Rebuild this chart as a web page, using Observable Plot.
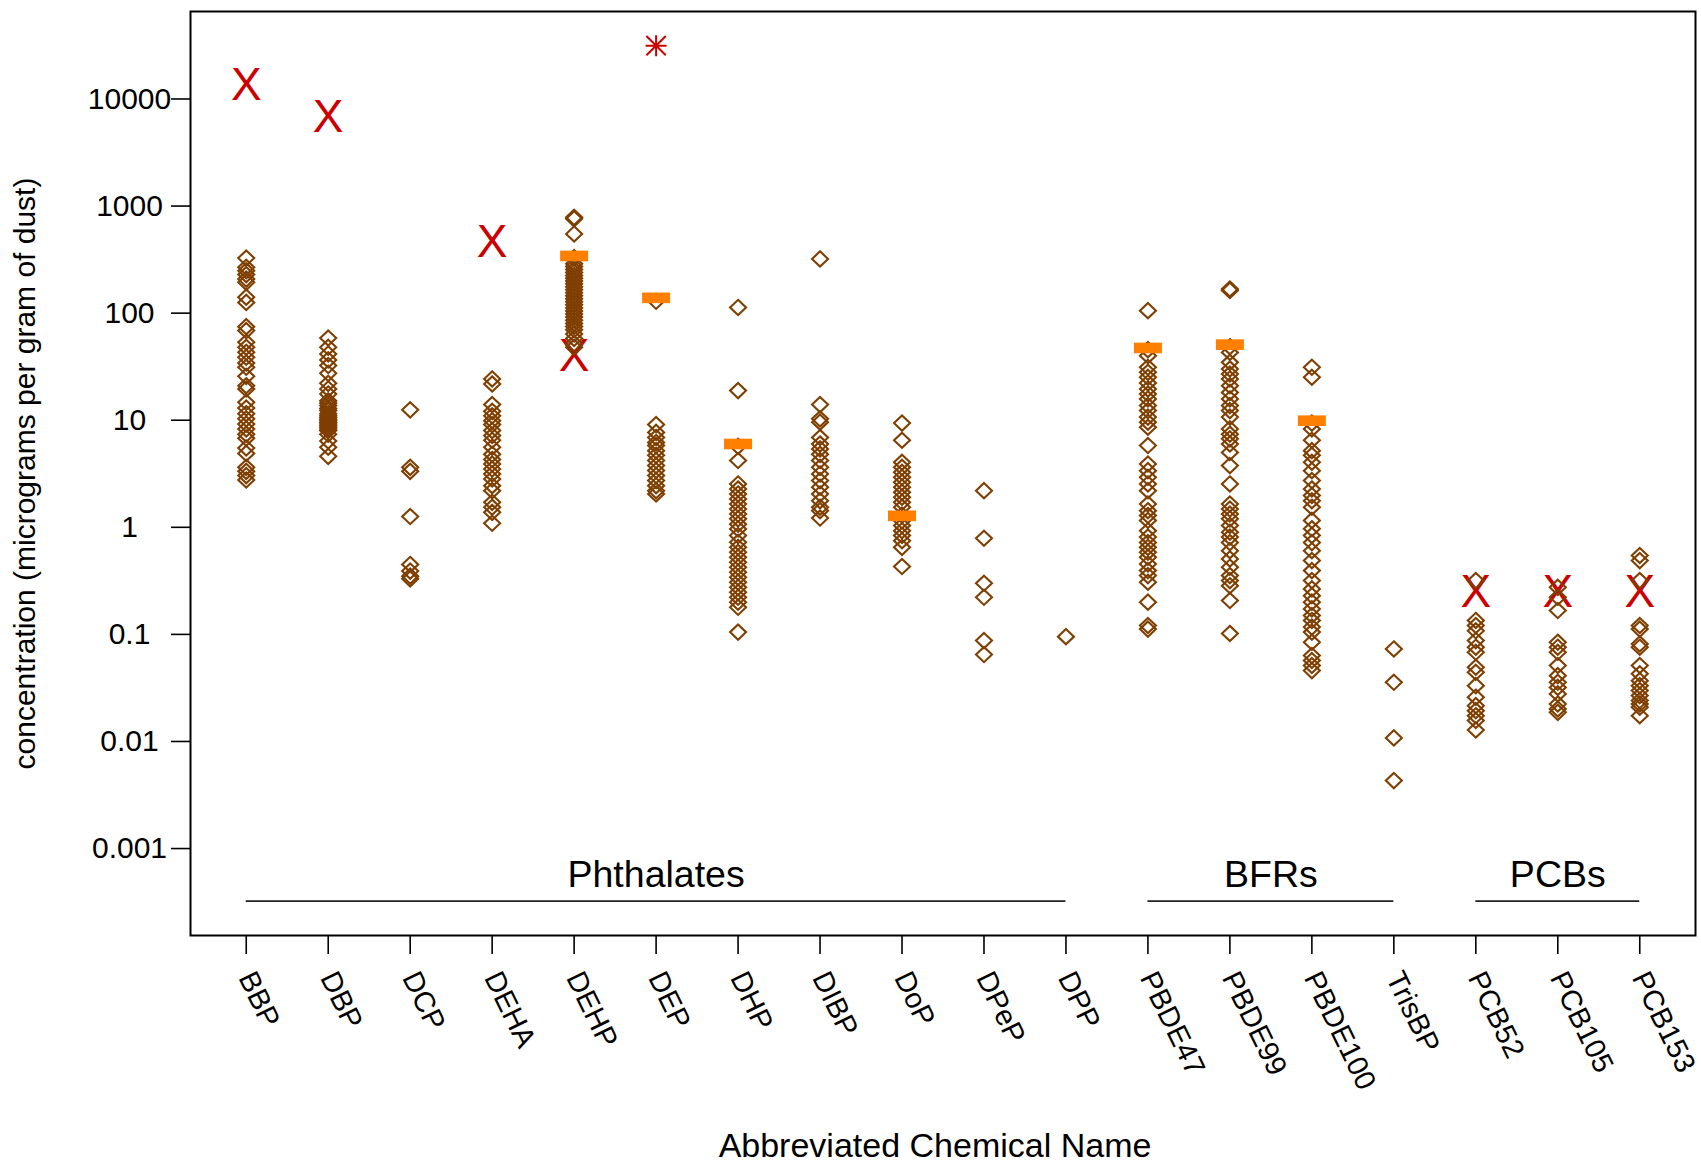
<!DOCTYPE html>
<html>
<head>
<meta charset="utf-8">
<script src="https://cdn.jsdelivr.net/npm/d3@7"></script>
<script src="https://cdn.jsdelivr.net/npm/@observablehq/plot@0.6"></script>
<style>
  html, body { margin: 0; padding: 0; background: #fff; }
  svg { display: block; }
</style>
</head>
<body>
<div id="chart"></div>
<script>
// ---- categories ----
const chemicals = ["BBP","DBP","DCP","DEHA","DEHP","DEP","DHP","DIBP","DoP","DPeP","DPP",
                   "PBDE47","PBDE99","PBDE100","TrisBP","PCB52","PCB105","PCB153"];

// ---- individual dust samples (micrograms per gram of dust) ----
const BBP = [327, 268, 249, 229, 208, 194, 141, 126, 74.8, 68.7, 53.5, 48, 43.1, 38.7, 34.3, 31.2,
             25.7, 21.0, 19.6, 14.7, 13.0, 11.5, 10.3, 9.2, 8.3, 7.4, 6.8, 5.5, 4.9, 3.63, 3.33, 3.04, 2.77];
const DBP = [58.6, 48, 41.6, 36.6, 32.4, 27.4, 22.1, 19.6, 17.6, 15.2, 14.5, 13.7, 12.9, 12.3, 11.5,
             11.0, 10.6, 10.2, 9.9, 9.5, 9.2, 8.9, 8.6, 8.3, 8.0, 7.4, 6.4, 5.6, 4.6];
const DCP = [12.5, 3.63, 3.33, 1.26, 0.45, 0.39, 0.35, 0.33];
const DEHA = [24.3, 21.8, 14.0, 12.1, 11.0, 9.9, 9.1, 8.0, 7.2, 6.5, 5.6, 4.8, 4.3, 3.9, 3.5, 3.15,
              2.83, 2.45, 2.2, 1.71, 1.54, 1.38, 1.09];
const DEHP = [785, 760, 549, 330, 290, 272, 255, 240, 225, 212, 200, 188, 176, 165, 155, 145, 136,
              128, 120, 112, 105, 98, 92, 86, 80, 75, 70, 64, 58, 52, 48];
const DEP = [129, 9.1, 7.7, 6.9, 6.2, 5.8, 5.2, 4.7, 4.2, 3.77, 3.39, 3.04, 2.73, 2.45, 2.2, 2.05];
const DHP = [113, 18.9, 5.7, 4.2, 2.54, 2.28, 2.05, 1.84, 1.65, 1.48, 1.33, 1.2, 1.07, 0.966, 0.837,
             0.725, 0.651, 0.585, 0.525, 0.471, 0.423, 0.38, 0.341, 0.307, 0.275, 0.247, 0.222, 0.2,
             0.179, 0.105];
const DIBP = [321, 14.0, 10.3, 9.6, 6.9, 6.0, 5.4, 4.8, 4.2, 3.63, 3.15, 2.73, 2.37, 2.05, 1.77,
              1.54, 1.43, 1.22];
const DoP = [9.4, 6.5, 4.05, 3.63, 3.26, 2.93, 2.63, 2.37, 2.12, 1.91, 1.71, 1.54, 1.3, 1.15, 1.04,
             0.93, 0.84, 0.75, 0.65, 0.43];
const DPeP = [2.2, 0.79, 0.30, 0.222, 0.0875, 0.0648];
const DPP = [0.0953];
const PBDE47 = [105.5, 45.6, 40.1, 31.2, 28.0, 25.2, 22.3, 19.6, 17.6, 15.8, 13.7, 12.3, 10.7, 9.6,
                8.6, 5.8, 3.9, 3.38, 2.93, 2.54, 2.2, 1.65, 1.43, 1.29, 1.16, 0.93, 0.81, 0.72, 0.65,
                0.585, 0.525, 0.455, 0.394, 0.354, 0.307, 0.2, 0.121, 0.112];
const PBDE99 = [168, 163, 48.6, 43, 34.7, 30.1, 27, 24.3, 21, 18.2, 15.8, 13.7, 12.3, 10.7, 8.3, 7.4,
                6.7, 6.0, 5.0, 3.77, 2.54, 1.65, 1.48, 1.33, 1.2, 1.04, 0.9, 0.81, 0.72, 0.605, 0.507,
                0.424, 0.354, 0.318, 0.285, 0.207, 0.102];
const PBDE100 = [31.2, 25.2, 9.4, 8.3, 6.5, 5.2, 4.7, 4.05, 3.38, 2.73, 2.28, 1.98, 1.77, 1.54, 1.16,
                 0.97, 0.84, 0.72, 0.605, 0.489, 0.394, 0.318, 0.266, 0.23, 0.2, 0.173, 0.15, 0.135,
                 0.117, 0.105, 0.0845, 0.0634, 0.057, 0.0512, 0.0459];
const TrisBP = [0.0731, 0.0357, 0.0108, 0.00431];
const PCB52 = [0.318, 0.135, 0.121, 0.108, 0.0875, 0.0759, 0.068, 0.0493, 0.0443, 0.0332, 0.0259,
               0.0216, 0.0194, 0.0174, 0.0157, 0.0128];
const PCB105 = [0.275, 0.222, 0.167, 0.0845, 0.0759, 0.068, 0.0512, 0.0412, 0.0357, 0.032, 0.0278,
                0.0224, 0.0201, 0.0187];
const PCB153 = [0.545, 0.489, 0.318, 0.121, 0.112, 0.0815, 0.0759, 0.0512, 0.0428, 0.037, 0.0332,
                0.0299, 0.0268, 0.0241, 0.0224, 0.0209, 0.0174];
const sampleSeries = [BBP, DBP, DCP, DEHA, DEHP, DEP, DHP, DIBP, DoP, DPeP, DPP,
                      PBDE47, PBDE99, PBDE100, TrisBP, PCB52, PCB105, PCB153];

// ---- orange bars ----
const barChemicals = ["DEHP","DEP","DHP","DoP","PBDE47","PBDE99","PBDE100"];
const barValues    = [342, 139, 6.0, 1.28, 47.3, 50.8, 9.9];

// ---- red X markers ----
const xMarkChemicals = ["BBP","DBP","DEHA","DEHP","PCB52","PCB105","PCB153"];
const xMarkValues    = [13500, 6730, 458, 39.3, 0.247, 0.247, 0.247];

// ---- red asterisk ----
const starChemicals = ["DEP"];
const starValues    = [31500];

// ---- chemical groups ----
const groupNames = ["Phthalates", "BFRs", "PCBs"];
const groupFirst = ["BBP", "PBDE47", "PCB52"];
const groupLast  = ["DPP", "TrisBP", "PCB153"];
const groupRuleValue  = 0.000323;   // lower y limit of the data range
const groupLabelValue = 0.000433;

// ---- axis ticks / titles ----
const yTicks = [0.001, 0.01, 0.1, 1, 10, 100, 1000, 10000];
const xTitle = "Abbreviated Chemical Name";
const yTitle = "concentration (micrograms per gram of dust)";

// ===================================================================
const pos = c => chemicals.indexOf(c) + 1;
const samples = chemicals.flatMap((c, i) => sampleSeries[i].map(v => ({pos: i + 1, value: v})));
const bars = barChemicals.map((c, i) => ({pos: pos(c), value: barValues[i]}));
const xMarks = xMarkChemicals.map((c, i) => ({pos: pos(c), value: xMarkValues[i]}));
const stars = starChemicals.map((c, i) => ({pos: pos(c), value: starValues[i]}));
const groups = groupNames.map((g, i) => ({name: g, a: pos(groupFirst[i]), b: pos(groupLast[i])}));

const BROWN = "#7f3f00", ORANGE = "#ff8000", RED = "#cc0000";

const diamondSymbol = {
  draw(ctx, size) {
    const r = Math.sqrt(size / Math.PI);
    ctx.moveTo(0, -r * 0.95); ctx.lineTo(r, 0); ctx.lineTo(0, r * 0.95); ctx.lineTo(-r, 0); ctx.closePath();
  }
};
const barSymbol = {
  draw(ctx, size) {
    const r = Math.sqrt(size / Math.PI);
    ctx.rect(-r, -r * 0.38, 2 * r, r * 0.76);
  }
};
const starSymbol = {
  draw(ctx, size) {
    const r = Math.sqrt(size / Math.PI), d = r * 0.92;
    ctx.moveTo(-r, 0); ctx.lineTo(r, 0);
    ctx.moveTo(0, -r); ctx.lineTo(0, r);
    ctx.moveTo(-d, -d); ctx.lineTo(d, d);
    ctx.moveTo(-d, d); ctx.lineTo(d, -d);
  }
};

const n = chemicals.length;
const chart = Plot.plot({
  width: 1701,
  height: 1163,
  marginLeft: 190,
  marginRight: 6,
  marginTop: 11,
  marginBottom: 228,
  style: {fontFamily: "'Liberation Sans', Arial, Helvetica, sans-serif", background: "#fff", color: "#000"},
  x: {type: "linear", domain: [1 - 0.04 * (n - 1), n + 0.04 * (n - 1)]},
  y: {type: "log", domain: [10 ** -3.812, 10 ** 4.817]},
  marks: [
    Plot.axisY({ticks: yTicks, tickFormat: d => String(d), tickSize: 19, tickPadding: 42,
                textAnchor: "middle", fontSize: 30, strokeWidth: 1.6,
                label: yTitle, labelAnchor: "center", labelOffset: 177, labelArrow: "none"}),
    Plot.axisX({ticks: d3.range(1, n + 1), tickFormat: i => chemicals[i - 1], tickSize: 19,
                tickPadding: 19, tickRotate: 64, fontSize: 29, strokeWidth: 1.6, label: null}),
    Plot.text([xTitle], {text: d => d, frameAnchor: "bottom", dx: -8, dy: 221,
                         lineAnchor: "bottom", fontSize: 34, fill: "#000"}),
    Plot.ruleY(groups, {y: () => groupRuleValue, x1: "a", x2: "b", stroke: "#222", strokeWidth: 1.6}),
    Plot.text(groups, {x: d => (d.a + d.b) / 2, y: () => groupLabelValue, text: "name",
                       fontSize: 37.5, lineAnchor: "bottom", fill: "#000"}),
    Plot.text(xMarks, {x: "pos", y: "value", text: () => "X", fontSize: 46, fill: RED}),
    Plot.dot(stars, {x: "pos", y: "value", symbol: starSymbol, r: 10.5, stroke: RED, strokeWidth: 2, fill: "none"}),
    Plot.dot(samples, {x: "pos", y: "value", symbol: diamondSymbol, r: 8.0, stroke: BROWN,
                       strokeWidth: 2.1, fill: "none"}),
    Plot.dot(bars, {x: "pos", y: "value", symbol: barSymbol, r: 14, fill: ORANGE, stroke: "none"}),
    Plot.frame({stroke: "#000", strokeWidth: 2})
  ]
});
document.getElementById("chart").appendChild(chart);
</script>
</body>
</html>
